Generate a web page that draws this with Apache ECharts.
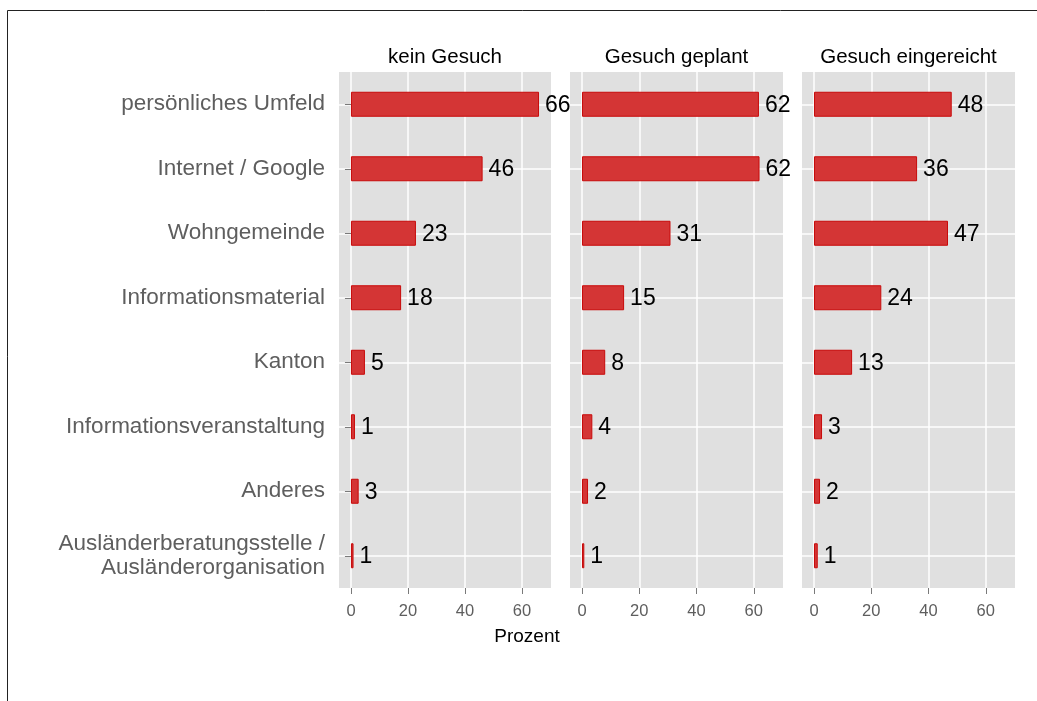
<!DOCTYPE html>
<html>
<head>
<meta charset="utf-8">
<script src="https://cdn.jsdelivr.net/npm/echarts@6/dist/echarts.min.js"></script>
<style>
  html, body { margin: 0; padding: 0; background: #ffffff; }
  #main { width: 1037px; height: 701px; }
</style>
</head>
<body>
<div id="main"></div>
<script>
var categories = [
    'persönliches Umfeld',
    'Internet / Google',
    'Wohngemeinde',
    'Informationsmaterial',
    'Kanton',
    'Informationsveranstaltung',
    'Anderes',
    'Ausländerberatungsstelle /\nAusländerorganisation'
];
var panelNames = ['kein Gesuch', 'Gesuch geplant', 'Gesuch eingereicht'];
var keinGesuch = [66, 46.2, 22.8, 17.6, 4.9, 1.4, 2.7, 0.9];
var gesuchGeplant = [61.8, 62, 30.9, 14.7, 8.1, 3.6, 2.1, 0.8];
var gesuchEingereicht = [48.1, 36, 46.8, 23.5, 13.3, 2.8, 2.1, 1.3];
var xTicks = [0, 20, 40, 60];

var chartDom = document.getElementById('main');
var myChart = echarts.init(chartDom);
var option;

var font = 'Liberation Sans, Arial, sans-serif';
var panelLeft = [339, 570, 802];
var panelWidth = [212, 213, 213];
var values = [keinGesuch, gesuchGeplant, gesuchEingereicht];

var grids = [], xAxes = [], yAxes = [], series = [], graphics = [];

for (var i = 0; i < 3; i++) {
    grids.push({
        left: panelLeft[i],
        width: panelWidth[i],
        top: 72,
        height: 516,
        show: true,
        backgroundColor: '#e0e0e0',
        borderWidth: 0
    });
    xAxes.push({
        type: 'value',
        gridIndex: i,
        min: -4.2,
        max: 70.2,
        axisLine: { show: false },
        axisTick: {
            show: true,
            length: 6,
            customValues: xTicks,
            lineStyle: { color: '#7a7a7a', width: 1 }
        },
        axisLabel: {
            customValues: xTicks,
            color: '#5e5e5e',
            fontSize: 16.5,
            fontFamily: font,
            margin: 15
        },
        splitLine: {
            show: true,
            lineStyle: { color: '#ffffff', width: 1.5 }
        }
    });
    yAxes.push({
        type: 'category',
        gridIndex: i,
        data: categories,
        inverse: true,
        axisLine: { show: false },
        axisTick: {
            show: i === 0,
            alignWithLabel: true,
            length: 6,
            lineStyle: { color: '#7a7a7a', width: 1 }
        },
        axisLabel: {
            show: i === 0,
            color: '#5e5e5e',
            fontSize: 22.5,
            fontFamily: font,
            align: 'right',
            lineHeight: 24,
            margin: 14
        },
        splitLine: {
            show: true,
            alignWithLabel: true,
            lineStyle: { color: '#ffffff', width: 1.5 }
        }
    });
    series.push({
        name: panelNames[i],
        type: 'bar',
        xAxisIndex: i,
        yAxisIndex: i,
        data: values[i],
        barWidth: 25,
        itemStyle: {
            color: '#d43535',
            borderColor: '#c80a0a',
            borderWidth: 1
        },
        label: {
            show: true,
            position: 'right',
            distance: 6,
            offset: [0, 1],
            color: '#000000',
            fontSize: 23,
            fontFamily: font,
            formatter: function (p) { return Math.round(p.value); }
        },
        silent: true
    });
    graphics.push({
        type: 'text',
        x: panelLeft[i] + panelWidth[i] / 2,
        y: 57,
        style: {
            text: panelNames[i],
            fill: '#000000',
            font: '20.5px ' + font,
            align: 'center',
            verticalAlign: 'middle'
        }
    });
}

graphics.push({
    type: 'text',
    x: 527,
    y: 637,
    style: {
        text: 'Prozent',
        fill: '#000000',
        font: '19px ' + font,
        align: 'center',
        verticalAlign: 'middle'
    }
});
graphics.push({
    type: 'rect',
    shape: { x: 7.5, y: 10.5, width: 2000, height: 2000 },
    style: { fill: 'none', stroke: '#222222', lineWidth: 1 },
    silent: true
});

option = {
    backgroundColor: '#ffffff',
    animation: false,
    grid: grids,
    xAxis: xAxes,
    yAxis: yAxes,
    series: series,
    graphic: graphics
};

option && myChart.setOption(option);
</script>
</body>
</html>
